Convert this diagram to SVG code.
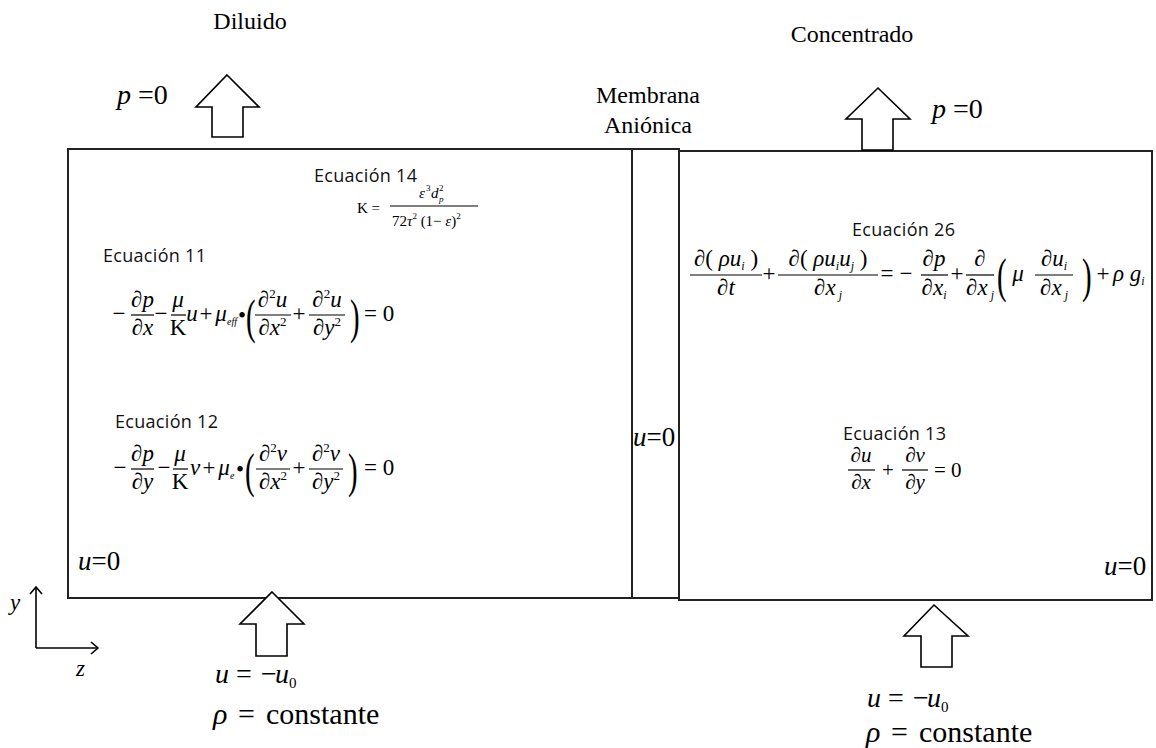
<svg xmlns="http://www.w3.org/2000/svg" width="1156" height="748" viewBox="0 0 1156 748" font-family="Liberation Serif, Times New Roman, serif">
<style>
text{font-family:"Liberation Serif","Times New Roman",serif;fill:#000}
.i{font-style:italic}
text.lbl{font-family:"Open Sans","Noto Sans",sans-serif;font-size:18px;letter-spacing:0.3px;fill:#111}
.m{font-size:23px}
.n{font-size:21px}
.big{font-size:24px}
.bc{font-size:27px}
.c{text-anchor:middle}
.box{fill:#fff;stroke:#222;stroke-width:2}
.arr{fill:#fff;stroke:#000;stroke-width:1.6}
.fl{stroke:#000;stroke-width:1.2}
.ax{fill:none;stroke:#000;stroke-width:1.6}
</style>
<rect width="1156" height="748" fill="#fff"/>

<g id="boxes">
<rect id="diluido-box" class="box" x="68" y="149" width="564" height="449"/>
<rect id="membrana-box" class="box" x="632" y="149" width="47" height="449"/>
<rect id="concentrado-box" class="box" x="679" y="151" width="473" height="449"/>
</g>

<g id="connectors">
<polygon class="arr" points="227,75 259,107 243,107 243,137 212,137 212,107 196,107"/>
<polygon class="arr" points="878,88 910,119 893,119 893,150 862,150 862,119 846,119"/>
<polygon class="arr" points="272,592 304,624 287,624 287,656 256,656 256,624 240,624"/>
<polygon class="arr" points="934,605 968,636 952,636 952,667 921,667 921,636 904,636"/>
<polyline class="ax" points="36,648 36,587"/>
<polyline class="ax" points="30,594 36,587 42,594"/>
<polyline class="ax" points="36,648 98,648"/>
<polyline class="ax" points="91,642 98,648 91,654"/>
</g>

<g id="labels-top">
<text class="big c" x="250" y="29">Diluido</text>
<text class="big c" x="852" y="42">Concentrado</text>
<text class="big c" x="648" y="103">Membrana</text>
<text class="big c" x="648" y="133">Aniónica</text>
<text style="font-size:28px" x="117" y="104"><tspan class="i">p</tspan> =0</text>
<text style="font-size:28px" x="932" y="118"><tspan class="i">p</tspan> =0</text>
</g>

<g id="labels-bc">
<text class="bc" x="78" y="570"><tspan class="i">u</tspan>=0</text>
<text class="bc" x="1104" y="575"><tspan class="i">u</tspan>=0</text>
<text class="bc" x="633" y="446"><tspan class="i">u</tspan>=0</text>
<text class="m i" x="10" y="610">y</text>
<text class="m i" x="76" y="676">z</text>
</g>

<g id="inlet-left">
<text class="i" style="font-size:28px" x="215" y="683">u</text>
<text style="font-size:28px" x="236" y="683">=</text>
<text style="font-size:28px" x="261" y="683">−</text>
<text class="i" style="font-size:28px" x="275" y="683">u</text>
<text style="font-size:15px" x="289" y="688">0</text>
<text class="i" style="font-size:30px" x="213" y="724">ρ</text>
<text style="font-size:30px" x="238" y="724">=</text>
<text style="font-size:30px" x="266" y="724">constante</text>
</g>
<g id="inlet-right">
<text class="i" style="font-size:28px" x="867" y="707">u</text>
<text style="font-size:28px" x="888" y="707">=</text>
<text style="font-size:28px" x="913" y="707">−</text>
<text class="i" style="font-size:28px" x="927" y="707">u</text>
<text style="font-size:15px" x="941" y="712">0</text>
<text class="i" style="font-size:30px" x="866" y="742">ρ</text>
<text style="font-size:30px" x="891" y="742">=</text>
<text style="font-size:30px" x="919" y="742">constante</text>
</g>

<g id="eq14">
<text class="lbl" x="314" y="182">Ecuación 14</text>
<text style="font-size:15px" x="357" y="213">K =</text>
<text style="font-size:15px" class="i" x="419" y="198">ε</text>
<text style="font-size:9px" x="426" y="191">3</text>
<text style="font-size:15px" class="i" x="431" y="198">d</text>
<text style="font-size:9px" x="439" y="191">2</text>
<text style="font-size:9px" class="i" x="439" y="202">p</text>
<line class="fl" x1="390" y1="206" x2="478" y2="206" stroke-width="0.8"/>
<text style="font-size:15px" x="392" y="226">72<tspan class="i">τ</tspan><tspan style="font-size:9px" dy="-7">2</tspan><tspan dy="7"> (1− </tspan><tspan class="i">ε</tspan>)<tspan style="font-size:9px" dy="-7">2</tspan></text>
</g>

<g id="eq11">
<text class="lbl" x="103" y="262">Ecuación 11</text>
<text class="m c" x="119" y="321">−</text>
<text class="m c" x="142.5" y="307">∂<tspan class="i">p</tspan></text>
<line class="fl" x1="131" y1="315" x2="154" y2="315"/>
<text class="m c" x="142.5" y="335">∂<tspan class="i">x</tspan></text>
<text class="m c" x="161" y="321">−</text>
<text class="m c i" x="178" y="307">μ</text>
<line class="fl" x1="171" y1="315" x2="186" y2="315"/>
<text class="m c" x="178" y="335">K</text>
<text class="m c i" x="192" y="321">u</text>
<text class="m c" x="206" y="321">+</text>
<text class="m c i" x="221" y="321">μ</text>
<text class="i" style="font-size:10px" x="227" y="325">eff</text>
<text class="m c" x="242" y="323">•</text>
<text style="font-size:48px" transform="translate(246,333) scale(0.6,1)">(</text>
<text class="m c" x="272.5" y="307">∂<tspan style="font-size:13px" dy="-9">2</tspan><tspan class="i" dy="9">u</tspan></text>
<line class="fl" x1="255" y1="315" x2="291" y2="315"/>
<text class="m c" x="272.5" y="335">∂<tspan class="i">x</tspan><tspan style="font-size:13px" dy="-9">2</tspan></text>
<text class="m c" x="299" y="321">+</text>
<text class="m c" x="327" y="307">∂<tspan style="font-size:13px" dy="-9">2</tspan><tspan class="i" dy="9">u</tspan></text>
<line class="fl" x1="309" y1="315" x2="345" y2="315"/>
<text class="m c" x="327" y="335">∂<tspan class="i">y</tspan><tspan style="font-size:13px" dy="-9">2</tspan></text>
<text style="font-size:48px" transform="translate(350,333) scale(0.6,1)">)</text>
<text class="m" x="364" y="321">= 0</text>
</g>

<g id="eq12">
<text class="lbl" x="115" y="428">Ecuación 12</text>
<text class="m c" x="120" y="475">−</text>
<text class="m c" x="142.5" y="461">∂<tspan class="i">p</tspan></text>
<line class="fl" x1="131" y1="469" x2="154" y2="469"/>
<text class="m c" x="142.5" y="489">∂<tspan class="i">y</tspan></text>
<text class="m c" x="164" y="475">−</text>
<text class="m c i" x="180" y="461">μ</text>
<line class="fl" x1="173" y1="469" x2="188" y2="469"/>
<text class="m c" x="180" y="489">K</text>
<text class="m c i" x="195" y="475">v</text>
<text class="m c" x="209" y="475">+</text>
<text class="m c i" x="224" y="475">μ</text>
<text class="i" style="font-size:10px" x="230" y="479">e</text>
<text class="m c" x="240" y="477">•</text>
<text style="font-size:48px" transform="translate(245,487) scale(0.6,1)">(</text>
<text class="m c" x="273" y="461">∂<tspan style="font-size:13px" dy="-9">2</tspan><tspan class="i" dy="9">v</tspan></text>
<line class="fl" x1="256" y1="469" x2="290" y2="469"/>
<text class="m c" x="273" y="489">∂<tspan class="i">x</tspan><tspan style="font-size:13px" dy="-9">2</tspan></text>
<text class="m c" x="299" y="475">+</text>
<text class="m c" x="326" y="461">∂<tspan style="font-size:13px" dy="-9">2</tspan><tspan class="i" dy="9">v</tspan></text>
<line class="fl" x1="309" y1="469" x2="343" y2="469"/>
<text class="m c" x="326" y="489">∂<tspan class="i">y</tspan><tspan style="font-size:13px" dy="-9">2</tspan></text>
<text style="font-size:48px" transform="translate(348,487) scale(0.6,1)">)</text>
<text class="m" x="364" y="475">= 0</text>
</g>

<g id="eq26">
<text class="lbl" x="852" y="236">Ecuación 26</text>
<text class="m c" x="726" y="266">∂( <tspan class="i">ρu</tspan><tspan class="i" style="font-size:12px" dy="4">i</tspan><tspan dy="-4"> )</tspan></text>
<line class="fl" x1="690" y1="275" x2="762" y2="275"/>
<text class="m c" x="726" y="295">∂<tspan class="i">t</tspan></text>
<text class="m c" x="769" y="281">+</text>
<text class="m c" x="828" y="266">∂( <tspan class="i">ρu</tspan><tspan class="i" style="font-size:12px" dy="4">i</tspan><tspan class="i" dy="-4">u</tspan><tspan class="i" style="font-size:12px" dy="4">j</tspan><tspan dy="-4"> )</tspan></text>
<line class="fl" x1="778" y1="275" x2="878" y2="275"/>
<text class="m c" x="828" y="295">∂<tspan class="i">x</tspan><tspan class="i" style="font-size:12px" dy="4"> j</tspan></text>
<text class="m c" x="887" y="281">=</text>
<text class="m c" x="906" y="281">−</text>
<text class="m c" x="934" y="266">∂<tspan class="i">p</tspan></text>
<line class="fl" x1="921" y1="275" x2="948" y2="275"/>
<text class="m c" x="934" y="295">∂<tspan class="i">x</tspan><tspan class="i" style="font-size:12px" dy="4">i</tspan></text>
<text class="m c" x="957" y="281">+</text>
<text class="m c" x="980" y="266">∂</text>
<line class="fl" x1="966" y1="275" x2="994" y2="275"/>
<text class="m c" x="980" y="295">∂<tspan class="i">x</tspan><tspan class="i" style="font-size:12px" dy="4"> j</tspan></text>
<text style="font-size:48px" transform="translate(997,292) scale(0.6,1)">(</text>
<text class="m c i" x="1018" y="281">μ</text>
<text class="m c" x="1054" y="266">∂<tspan class="i">u</tspan><tspan class="i" style="font-size:12px" dy="4">i</tspan></text>
<line class="fl" x1="1035" y1="275" x2="1073" y2="275"/>
<text class="m c" x="1054" y="295">∂<tspan class="i">x</tspan><tspan class="i" style="font-size:12px" dy="4"> j</tspan></text>
<text style="font-size:48px" transform="translate(1082,292) scale(0.6,1)">)</text>
<text class="m c" x="1103" y="281">+</text>
<text class="m i" x="1113" y="281">ρ g<tspan style="font-size:12px" dy="4">i</tspan></text>
</g>

<g id="eq13">
<text class="lbl" x="843" y="440">Ecuación 13</text>
<text class="n c" x="861" y="462">∂<tspan class="i">u</tspan></text>
<line class="fl" x1="848" y1="470" x2="875" y2="470"/>
<text class="n c" x="861" y="489">∂<tspan class="i">x</tspan></text>
<text class="n c" x="888" y="477">+</text>
<text class="n c" x="915" y="462">∂<tspan class="i">v</tspan></text>
<line class="fl" x1="902" y1="470" x2="928" y2="470"/>
<text class="n c" x="915" y="489">∂<tspan class="i">y</tspan></text>
<text class="n" x="934" y="477">= 0</text>
</g>
</svg>
